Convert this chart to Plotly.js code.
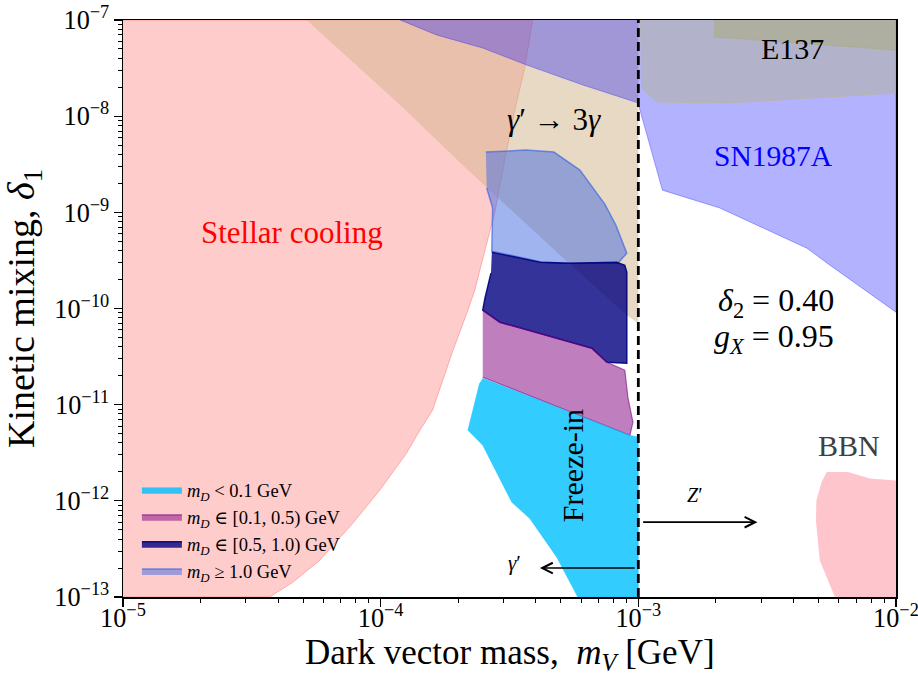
<!DOCTYPE html>
<html>
<head>
<meta charset="utf-8">
<script src="https://cdn.plot.ly/plotly-3.0.1.min.js"></script>
<style>html,body{margin:0;padding:0;background:#fff;}#chart{width:918px;height:677px;}</style>
</head>
<body>
<div id="chart"></div>
<script>
// ---- Data (m_V in GeV, kinetic mixing delta_1) ----
const stellarX = [1e-5, 3.71e-5, 4.56e-5, 5.80e-5, 7.79e-5, 9.92e-5, 1.26e-4, 1.42e-4, 1.59e-4, 1.77e-4, 1.91e-4, 2.16e-4, 2.32e-4, 2.54e-4, 2.77e-4, 3.03e-4, 3.32e-4, 3.63e-4, 3.89e-4, 1e-5];
const stellarY = [1e-13, 1e-13, 1.42e-13, 2.40e-13, 5.83e-13, 1.29e-12, 3.12e-12, 5.42e-12, 8.75e-12, 2.02e-11, 3.68e-11, 8.93e-11, 1.55e-10, 4.04e-10, 9.81e-10, 3.49e-9, 1.16e-8, 3.24e-8, 1e-7, 1e-7];

const threeGammaX = [5.16e-5, 9.32e-5, 1.19e-4, 2.08e-4, 4.96e-4, 9.02e-4, 1e-3, 1e-3];
const threeGammaY = [1e-7, 2.38e-8, 1.31e-8, 3.10e-9, 3.59e-10, 8.51e-11, 7.03e-11, 1e-7];

const snX = [1.19e-4, 1.65e-4, 2.49e-4, 3.69e-4, 6.09e-4, 1e-3, 1.01e-3, 1.24e-3, 2.07e-3, 4.51e-3, 5.54e-3, 1e-2, 1e-2];
const snY = [1e-7, 6.98e-8, 5.11e-8, 3.40e-8, 2.11e-8, 1.37e-8, 1.21e-8, 1.70e-9, 1.11e-9, 4.24e-10, 2.82e-10, 9.15e-11, 1e-7];

const beamOuterX = [1.02e-3, 1.03e-3, 1.18e-3, 2.26e-3, 1e-2, 1e-2];
const beamOuterY = [1e-7, 1.96e-8, 1.40e-8, 1.37e-8, 1.74e-8, 1e-7];

const e137X = [1.98e-3, 1.98e-3, 1e-2, 1e-2];
const e137Y = [1e-7, 6.65e-8, 4.87e-8, 1e-7];

const bbnX = [5.38e-3, 6.51e-3, 7.92e-3, 1e-2, 1e-2, 5.79e-3, 5.06e-3, 4.89e-3, 4.91e-3, 5.14e-3];
const bbnY = [2.0e-12, 2.0e-12, 1.71e-12, 1.63e-12, 1e-13, 1e-13, 2.40e-13, 6.26e-13, 1.01e-12, 1.56e-12];

const heavyX = [2.56e-4, 3.66e-4, 4.70e-4, 5.93e-4, 7.41e-4, 8.18e-4, 9.02e-4, 8.33e-4, 5.42e-4, 4.26e-4, 2.70e-4, 2.72e-4, 2.58e-4];
const heavyY = [4.23e-9, 4.44e-9, 4.23e-9, 2.75e-9, 1.22e-9, 7.36e-10, 3.76e-10, 2.96e-10, 2.96e-10, 3.03e-10, 3.95e-10, 1.11e-9, 1.79e-9];

const midHighX = [2.70e-4, 4.15e-4, 5.42e-4, 8.25e-4, 8.86e-4, 9.02e-4, 9.02e-4, 7.55e-4, 6.60e-4, 4.83e-4, 2.90e-4, 2.49e-4, 2.54e-4, 2.68e-4];
const midHighY = [3.85e-10, 3.03e-10, 2.96e-10, 3.03e-10, 2.82e-10, 2.39e-10, 2.70e-11, 2.76e-11, 3.86e-11, 4.91e-11, 7.20e-11, 9.60e-11, 1.28e-10, 2.33e-10];

const midLowX = [2.49e-4, 2.90e-4, 4.83e-4, 6.60e-4, 7.55e-4, 8.86e-4, 9.11e-4, 9.53e-4, 9.27e-4, 2.49e-4];
const midLowY = [9.60e-11, 7.20e-11, 4.91e-11, 3.86e-11, 2.76e-11, 2.28e-11, 1.19e-11, 6.56e-12, 4.80e-12, 1.93e-11];

const lightX = [2.49e-4, 9.27e-4, 1e-3, 1e-3, 5.82e-4, 4.83e-4, 3.79e-4, 3.23e-4, 2.49e-4, 2.18e-4, 2.28e-4, 2.42e-4];
const lightY = [1.88e-11, 4.80e-12, 4.58e-12, 1e-13, 1e-13, 2.58e-13, 6.57e-13, 9.64e-13, 3.78e-12, 5.42e-12, 8.74e-12, 1.67e-11];

const legendNames = [
  '<i>m</i><sub><i>D</i></sub> &lt; 0.1 GeV',
  '<i>m</i><sub><i>D</i></sub> ∈ [0.1, 0.5) GeV',
  '<i>m</i><sub><i>D</i></sub> ∈ [0.5, 1.0) GeV',
  '<i>m</i><sub><i>D</i></sub> ≥ 1.0 GeV'
];

const xTitle = 'Dark vector mass,  <i>m</i><sub><i>V</i></sub> [GeV]';
const yTitle = 'Kinetic mixing, <i>δ</i><sub>1</sub>';

const thresholdMass = 1e-3;
const yRangeVals = [1e-13, 1e-7];

const zArrow = {tail: 1.03e-3, head: 2.9e-3, y: 6.0e-13};
const gArrow = {tail: 9.8e-4, head: 4.15e-4, y: 2.0e-13};

// ---- Traces ----
function region(x, y, fill, line, lw, extra) {
  return Object.assign({
    type: 'scatter', mode: 'lines', x: x, y: y, fill: 'toself',
    fillcolor: fill, line: {color: line, width: lw}, hoverinfo: 'skip', showlegend: false
  }, extra || {});
}

const traces = [
  region(stellarX, stellarY, 'rgba(255,0,0,0.2)', 'rgba(255,0,0,0.25)', 1),
  region(threeGammaX, threeGammaY, 'rgba(210,180,140,0.5)', 'rgba(210,180,140,0)', 0),
  region(snX, snY, 'rgba(0,0,255,0.3)', 'rgba(0,0,255,0.3)', 1),
  region(beamOuterX, beamOuterY, 'rgba(178,178,150,0.5)', 'rgba(190,190,120,0.5)', 1),
  region(e137X, e137Y, 'rgba(170,170,110,0.45)', 'rgba(170,170,100,0.4)', 1),
  region(bbnX, bbnY, 'rgba(255,182,193,0.8)', 'rgba(255,182,193,0)', 0),
  region(heavyX, heavyY, 'rgba(65,105,225,0.5)', 'rgba(65,105,225,0.7)', 1.5, {showlegend: true, name: legendNames[3], legendrank: 4}),
  region(midHighX, midHighY, 'rgba(0,0,128,0.8)', 'rgba(0,0,128,0.9)', 1.5, {showlegend: true, name: legendNames[2], legendrank: 3}),
  region(midLowX, midLowY, 'rgba(128,0,128,0.5)', 'rgba(128,0,128,0.6)', 1.2, {showlegend: true, name: legendNames[1], legendrank: 2}),
  region(lightX, lightY, 'rgba(0,191,255,0.8)', 'rgba(0,191,255,0.4)', 1, {showlegend: true, name: legendNames[0], legendrank: 1}),
  {type: 'scatter', mode: 'lines', x: [thresholdMass, thresholdMass], y: yRangeVals,
   line: {color: 'black', width: 2.8, dash: '9px,5px'}, hoverinfo: 'skip', showlegend: false}
];

const FONT = 'Liberation Serif, DejaVu Serif, serif';
const L = Math.log10;
const txt = (t, x, y, size, color, extra) => Object.assign({
  text: t, x: L(x), y: L(y), xref: 'x', yref: 'y', showarrow: false,
  font: {size: size, color: color || 'black', family: FONT}
}, extra || {});

const annotations = [
  txt('Stellar cooling', 4.52e-5, 6.2e-10, 31, '#ff0000'),
  txt('<i>γ</i>′ → 3<i>γ</i>', 4.70e-4, 9.3e-9, 31, 'black'),
  txt('E137', 3.98e-3, 5.1e-8, 30, 'black'),
  txt('SN1987A', 3.36e-3, 3.85e-9, 29.5, '#0000ff'),
  txt('<i>δ</i><sub>2</sub> = 0.40', 3.41e-3, 1.16e-10, 32, 'black'),
  txt('<i>g</i><sub><i>X</i></sub> = 0.95', 3.37e-3, 4.9e-11, 32, 'black'),
  txt('BBN', 6.56e-3, 3.78e-12, 30, '#404040'),
  txt('Freeze-in', 5.52e-4, 2.34e-12, 30, 'black', {textangle: -90}),
  txt('<i>Z</i>′', 1.66e-3, 1.14e-12, 20, 'black'),
  txt('<i>γ</i>′', 3.32e-4, 2.24e-13, 21, 'black'),
  {x: L(zArrow.head), y: L(zArrow.y), ax: L(zArrow.tail), ay: L(zArrow.y), xref: 'x', yref: 'y', axref: 'x', ayref: 'y',
   showarrow: true, arrowhead: 5, arrowsize: 1.3, arrowwidth: 1.6, arrowcolor: 'black', text: ''},
  {x: L(gArrow.head), y: L(gArrow.y), ax: L(gArrow.tail), ay: L(gArrow.y), xref: 'x', yref: 'y', axref: 'x', ayref: 'y',
   showarrow: true, arrowhead: 5, arrowsize: 1.3, arrowwidth: 1.6, arrowcolor: 'black', text: ''},
  // x-axis title
  {text: xTitle, xref: 'paper', yref: 'paper', x: 0.5, y: -0.1378, xanchor: 'center', yanchor: 'bottom',
   showarrow: false, borderpad: 0, font: {size: 35, color: 'black', family: FONT}}
];

const axisCommon = {
  type: 'log', dtick: 1, exponentformat: 'power', showexponent: 'all',
  ticks: 'outside', ticklen: 8, tickwidth: 1.2, tickcolor: 'black',
  showline: true, mirror: true, linecolor: 'black', linewidth: 1.5,
  showgrid: false, zeroline: false, tickfont: {size: 21, color: 'black'},
  ticklabeloverflow: 'allow',
  minor: {ticks: 'outside', ticklen: 4, tickwidth: 1, tickcolor: 'black', dtick: 'D1', showgrid: false}
};

const layout = {
  width: 918, height: 677,
  margin: {l: 123, r: 22, t: 20, b: 80},
  paper_bgcolor: 'white', plot_bgcolor: 'white',
  font: {family: FONT, color: 'black'},
  xaxis: Object.assign({}, axisCommon, {range: [-5, -2], ticklabelstandoff: -10}),
  yaxis: Object.assign({}, axisCommon, {range: [-13, -7],
    title: {text: yTitle, font: {size: 38}, standoff: 10}}),
  legend: {x: 0.018, y: 0.218, xanchor: 'left', yanchor: 'top', bgcolor: 'rgba(0,0,0,0)',
    font: {size: 18.5}, tracegroupgap: 0, itemwidth: 40},
  annotations: annotations,
  showlegend: true
};

Plotly.newPlot('chart', traces, layout, {displayModeBar: false, staticPlot: true});
</script>
</body>
</html>
